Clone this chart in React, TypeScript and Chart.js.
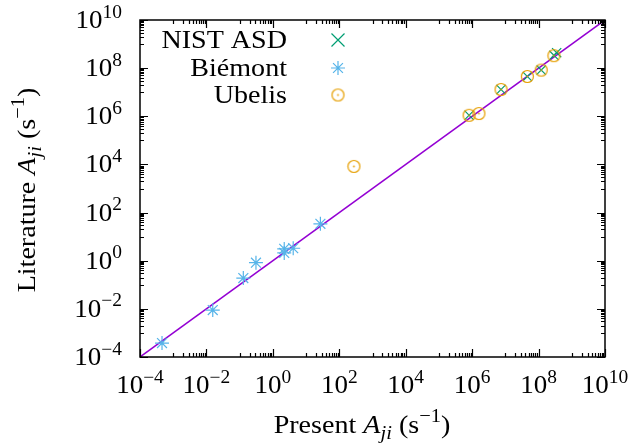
import React, { useEffect, useRef } from "react";
import { Chart, registerables } from "chart.js";

Chart.register(...registerables);

// ---- data ----
const nistPresent = [8.1e5, 7.4e6, 4.6e7, 1.2e8, 2.9e8, 3.5e8];
const nistLiterature = [1.1e6, 1.3e7, 4.5e7, 8.3e7, 3.4e8, 4.4e8];
const biemontPresent = [4.6e-4, 1.55e-2, 0.129, 0.31, 2.2, 2.2, 4.1, 27];
const biemontLiterature = [3.8e-4, 8.9e-3, 0.19, 0.83, 3.1, 2.1, 3.3, 34];
const ubelisPresent = [275, 8.1e5, 1.6e6, 7.4e6, 4.6e7, 1.2e8, 2.9e8];
const ubelisLiterature = [8300, 1.1e6, 1.3e6, 1.3e7, 4.5e7, 8.3e7, 3.3e8];
const diagonal = [1e-4, 1e10];
const tickExponents = [-4, -2, 0, 2, 4, 6, 8, 10];
const seriesNames = ["NIST ASD", "Biémont", "Ubelis"];
const xTitle = ["Present ", "A", "ji", " (s", "−1", ")"];
const yTitle = ["Literature ", "A", "ji", " (s", "−1", ")"];

const GREEN = "#009e73";
const BLUE = "#56b4e9";
const ORANGE = "#e69f00";
const PURPLE = "#9400d3";
const FONT = '"Liberation Serif", "DejaVu Serif", serif';
const TICK_FS = 25;
const TITLE_FS = 26;
const LEG_FS = 26;
const STRETCH = 1.08;

function makeCircleDot(): HTMLCanvasElement {
  const c = document.createElement("canvas");
  c.width = 15;
  c.height = 15;
  const g = c.getContext("2d")!;
  g.strokeStyle = ORANGE;
  g.fillStyle = ORANGE;
  g.lineWidth = 1.2;
  g.beginPath();
  g.arc(7.5, 7.5, 6, 0, Math.PI * 2);
  g.stroke();
  g.beginPath();
  g.arc(7.5, 7.5, 0.9, 0, Math.PI * 2);
  g.fill();
  return c;
}

type Piece = { t: string; f: string; dy: number };
function runWidth(ctx: CanvasRenderingContext2D, ps: Piece[]) {
  let w = 0;
  ps.forEach((p) => {
    ctx.font = p.f;
    w += ctx.measureText(p.t).width;
  });
  return w * STRETCH;
}
function drawRun(ctx: CanvasRenderingContext2D, ps: Piece[], x: number, y: number) {
  ctx.save();
  ctx.translate(x, y);
  ctx.scale(STRETCH, 1);
  ctx.textAlign = "left";
  ctx.textBaseline = "alphabetic";
  let cx = 0;
  ps.forEach((p) => {
    ctx.font = p.f;
    ctx.fillText(p.t, cx, p.dy);
    cx += ctx.measureText(p.t).width;
  });
  ctx.restore();
}

function powPieces(exp: number): Piece[] {
  const sup = exp < 0 ? "−" + String(-exp) : String(exp);
  return [
    { t: "10", f: `${TICK_FS}px ${FONT}`, dy: 0 },
    { t: sup, f: `${Math.round(TICK_FS * 0.72)}px ${FONT}`, dy: -TICK_FS * 0.42 },
  ];
}

function titlePieces(parts: string[]): Piece[] {
  const small = Math.round(TITLE_FS * 0.72);
  return [
    { t: parts[0], f: `${TITLE_FS}px ${FONT}`, dy: 0 },
    { t: parts[1], f: `italic ${TITLE_FS}px ${FONT}`, dy: 0 },
    { t: parts[2], f: `italic ${small}px ${FONT}`, dy: TITLE_FS * 0.22 },
    { t: parts[3], f: `${TITLE_FS}px ${FONT}`, dy: 0 },
    { t: parts[4], f: `${small}px ${FONT}`, dy: -TITLE_FS * 0.42 },
    { t: parts[5], f: `${TITLE_FS}px ${FONT}`, dy: 0 },
  ];
}

const framePlugin = {
  id: "gnuplotFrame",
  afterDraw(chart: any) {
    const ctx: CanvasRenderingContext2D = chart.ctx;
    const { left, right, top, bottom } = chart.chartArea;
    const xs = chart.scales.x;
    const ys = chart.scales.y;
    ctx.save();
    ctx.strokeStyle = "#000";
    ctx.lineWidth = 1.2;
    const ticks: { v: number; len: number }[] = [];
    for (let e = -4; e <= 10; e++) {
      if (e % 2 === 0) ticks.push({ v: Math.pow(10, e), len: 8 });
      else for (let k = 1; k <= 9; k++) ticks.push({ v: k * Math.pow(10, e), len: 4 });
    }
    ctx.beginPath();
    ticks.forEach(({ v, len }) => {
      const px = Math.round(xs.getPixelForValue(v)) + 0.5;
      ctx.moveTo(px, bottom);
      ctx.lineTo(px, bottom - len);
      ctx.moveTo(px, top);
      ctx.lineTo(px, top + len);
      const py = Math.round(ys.getPixelForValue(v)) + 0.5;
      ctx.moveTo(left, py);
      ctx.lineTo(left + len, py);
      ctx.moveTo(right, py);
      ctx.lineTo(right - len, py);
    });
    ctx.stroke();
    ctx.lineWidth = 1.5;
    ctx.strokeRect(left, top, right - left, bottom - top);

    ctx.fillStyle = "#000";
    tickExponents.forEach((e) => {
      const v = Math.pow(10, e);
      const ps = powPieces(e);
      const w = runWidth(ctx, ps);
      drawRun(ctx, ps, xs.getPixelForValue(v) - w / 2, 393);
      drawRun(ctx, ps, 122 - w, ys.getPixelForValue(v) + 8);
    });

    const xp = titlePieces(xTitle);
    drawRun(ctx, xp, 362 - runWidth(ctx, xp) / 2, 433);
    const yp = titlePieces(yTitle);
    ctx.save();
    ctx.translate(35, 190);
    ctx.rotate(-Math.PI / 2);
    drawRun(ctx, yp, -runWidth(ctx, yp) / 2, 0);
    ctx.restore();

    // legend
    const legY = [40, 68, 95];
    const textRight = 287;
    const symX = 338;
    seriesNames.forEach((name, i) => {
      const ps = [{ t: name, f: `${LEG_FS}px ${FONT}`, dy: 0 }];
      drawRun(ctx, ps, textRight - runWidth(ctx, ps), legY[i] + 8);
    });
    ctx.lineWidth = 1.2;
    ctx.strokeStyle = GREEN;
    let r = 6.5;
    ctx.beginPath();
    ctx.moveTo(symX - r, legY[0] - r);
    ctx.lineTo(symX + r, legY[0] + r);
    ctx.moveTo(symX - r, legY[0] + r);
    ctx.lineTo(symX + r, legY[0] - r);
    ctx.stroke();
    ctx.strokeStyle = BLUE;
    r = 7;
    const rd = r * Math.SQRT1_2;
    ctx.beginPath();
    ctx.moveTo(symX - r, legY[1]);
    ctx.lineTo(symX + r, legY[1]);
    ctx.moveTo(symX, legY[1] - r);
    ctx.lineTo(symX, legY[1] + r);
    ctx.moveTo(symX - rd, legY[1] - rd);
    ctx.lineTo(symX + rd, legY[1] + rd);
    ctx.moveTo(symX - rd, legY[1] + rd);
    ctx.lineTo(symX + rd, legY[1] - rd);
    ctx.stroke();
    const img = chart.data.datasets[2].pointStyle as HTMLCanvasElement;
    ctx.drawImage(img, symX - img.width / 2, legY[2] - img.height / 2);
    ctx.restore();
  },
};

export default function App() {
  const ref = useRef<HTMLCanvasElement | null>(null);
  useEffect(() => {
    if (!ref.current) return;
    const circleDot = makeCircleDot();
    const chart = new Chart(ref.current, {
      type: "scatter",
      data: {
        datasets: [
          {
            label: seriesNames[0],
            data: nistPresent.map((x, i) => ({ x, y: nistLiterature[i] })),
            pointStyle: "crossRot",
            pointRadius: 6.5,
            borderColor: GREEN,
            backgroundColor: GREEN,
            borderWidth: 1.2,
            order: 2,
          },
          {
            label: seriesNames[1],
            data: biemontPresent.map((x, i) => ({ x, y: biemontLiterature[i] })),
            pointStyle: "star",
            pointRadius: 7,
            borderColor: BLUE,
            backgroundColor: BLUE,
            borderWidth: 1.2,
            order: 1,
          },
          {
            label: seriesNames[2],
            data: ubelisPresent.map((x, i) => ({ x, y: ubelisLiterature[i] })),
            pointStyle: circleDot as any,
            pointRadius: 7,
            borderColor: ORANGE,
            backgroundColor: ORANGE,
            order: 0,
          },
          {
            label: "y = x",
            type: "line",
            data: diagonal.map((v) => ({ x: v, y: v })),
            borderColor: PURPLE,
            borderWidth: 1.5,
            pointRadius: 0,
            showLine: true,
            order: 3,
          } as any,
        ],
      },
      options: {
        animation: false,
        responsive: false,
        maintainAspectRatio: false,
        devicePixelRatio: 1,
        layout: { padding: { left: 140, right: 38, top: 20, bottom: 88 } },
        plugins: { legend: { display: false }, tooltip: { enabled: false } },
        scales: {
          x: { type: "logarithmic", min: 1e-4, max: 1e10, display: false },
          y: { type: "logarithmic", min: 1e-4, max: 1e10, display: false },
        },
      },
      plugins: [framePlugin],
    });
    return () => chart.destroy();
  }, []);
  return (
    <div style={{ position: "fixed", left: 0, top: 0, width: 643, height: 445, background: "#fff" }}>
      <canvas ref={ref} width={643} height={445} style={{ width: 643, height: 445 }} />
    </div>
  );
}
